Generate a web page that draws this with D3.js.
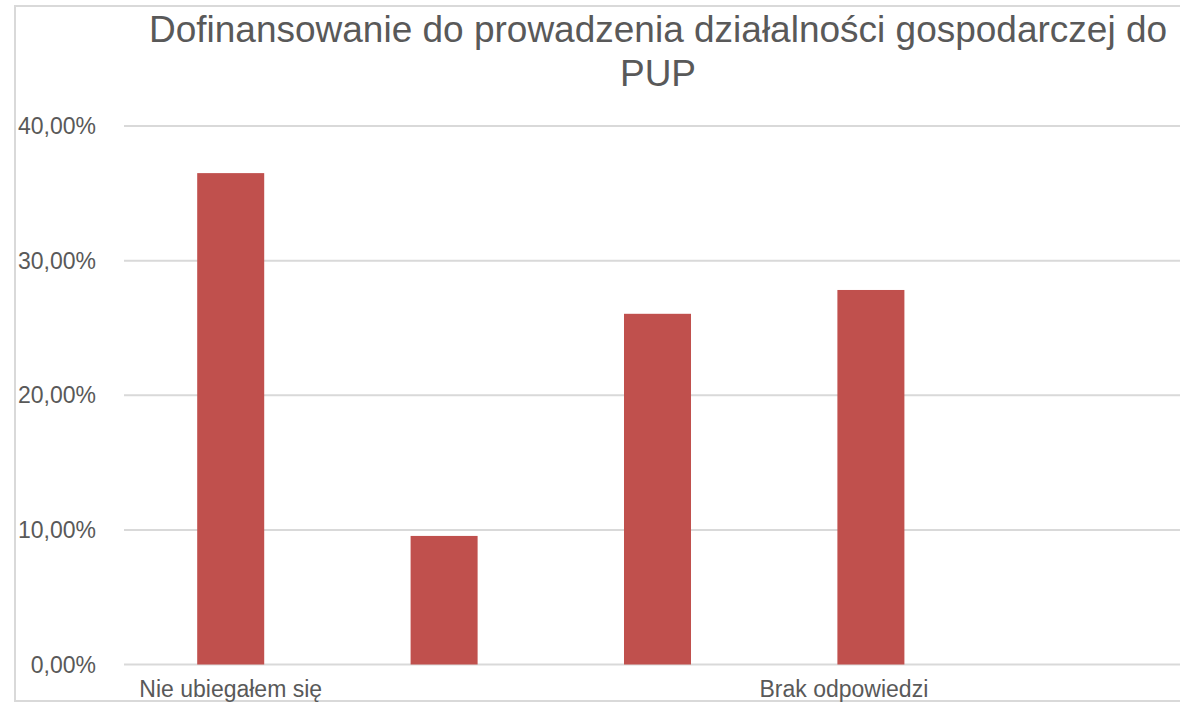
<!DOCTYPE html>
<html>
<head>
<meta charset="utf-8">
<script src="https://cdn.jsdelivr.net/npm/d3@7"></script>
<style>
  body { margin: 0; background: #fff; }
  svg { display: block; font-family: "Liberation Sans", Arial, sans-serif; }
</style>
</head>
<body>
<svg id="chart"></svg>
<script>
const width = 1180;
const height = 705;

const title = ['Dofinansowanie do prowadzenia działalności gospodarczej do', 'PUP'];
const categories = ['Nie ubiegałem się', 'Ubiegałem się i otrzymałem', 'Ubiegałem się, nie otrzymałem', 'Brak odpowiedzi', ''];
const shownLabels = ['Nie ubiegałem się', '', '', 'Brak odpowiedzi', ''];
const values = [0.365, 0.0955, 0.2605, 0.2782, null];
const yTicks = [0, 0.1, 0.2, 0.3, 0.4];

const margin = { left: 124, right: -11, top: 126, bottom: 40 };

const svg = d3.select('#chart')
    .attr('width', width)
    .attr('height', height);

// chart border (cropped on the right in the original)
svg.append('rect')
    .attr('x', 15).attr('y', 6)
    .attr('width', 1200).attr('height', 695)
    .attr('fill', 'none')
    .attr('stroke', '#d9d9d9')
    .attr('stroke-width', 2);

const x = d3.scaleBand()
    .domain(categories.map((d, i) => i))
    .range([margin.left, width - margin.right])
    .paddingInner(0.686)
    .paddingOuter(0.343);

const y = d3.scaleLinear()
    .domain([0, 0.4])
    .range([664.5, margin.top]);

const fmt = d => d3.format('.2f')(d * 100).replace('.', ',') + '%';

// gridlines
svg.append('g')
    .selectAll('line')
    .data(yTicks)
    .join('line')
    .attr('x1', margin.left)
    .attr('x2', width)
    .attr('y1', d => y(d))
    .attr('y2', d => y(d))
    .attr('stroke', '#d9d9d9')
    .attr('stroke-width', 2);

// y labels
svg.append('g')
    .selectAll('text')
    .data(yTicks)
    .join('text')
    .attr('x', 96)
    .attr('y', d => y(d) + 8)
    .attr('text-anchor', 'end')
    .attr('fill', '#595959')
    .style('font-size', '23px')
    .text(fmt);

// bars
svg.append('g')
    .selectAll('rect')
    .data(values.map((v, i) => ({ i, v })).filter(d => d.v != null))
    .join('rect')
    .attr('x', d => x(d.i))
    .attr('width', x.bandwidth())
    .attr('y', d => y(d.v))
    .attr('height', d => y(0) - y(d.v))
    .attr('fill', '#c0504d');

// category labels
svg.append('g')
    .selectAll('text')
    .data(shownLabels.map((t, i) => ({ t, i })).filter(d => d.t))
    .join('text')
    .attr('x', d => x(d.i) + x.bandwidth() / 2)
    .attr('dx', d => d.i === 3 ? -27 : 0)
    .attr('y', 697)
    .attr('text-anchor', 'middle')
    .attr('fill', '#595959')
    .style('font-size', '23px')
    .text(d => d.t);

// title
svg.append('text')
    .attr('x', 658)
    .attr('y', 42)
    .attr('text-anchor', 'middle')
    .attr('fill', '#595959')
    .style('font-size', '37px')
    .selectAll('tspan')
    .data(title)
    .join('tspan')
    .attr('x', 658)
    .attr('dy', (d, i) => i ? 44 : 0)
    .text(d => d);
</script>
</body>
</html>
